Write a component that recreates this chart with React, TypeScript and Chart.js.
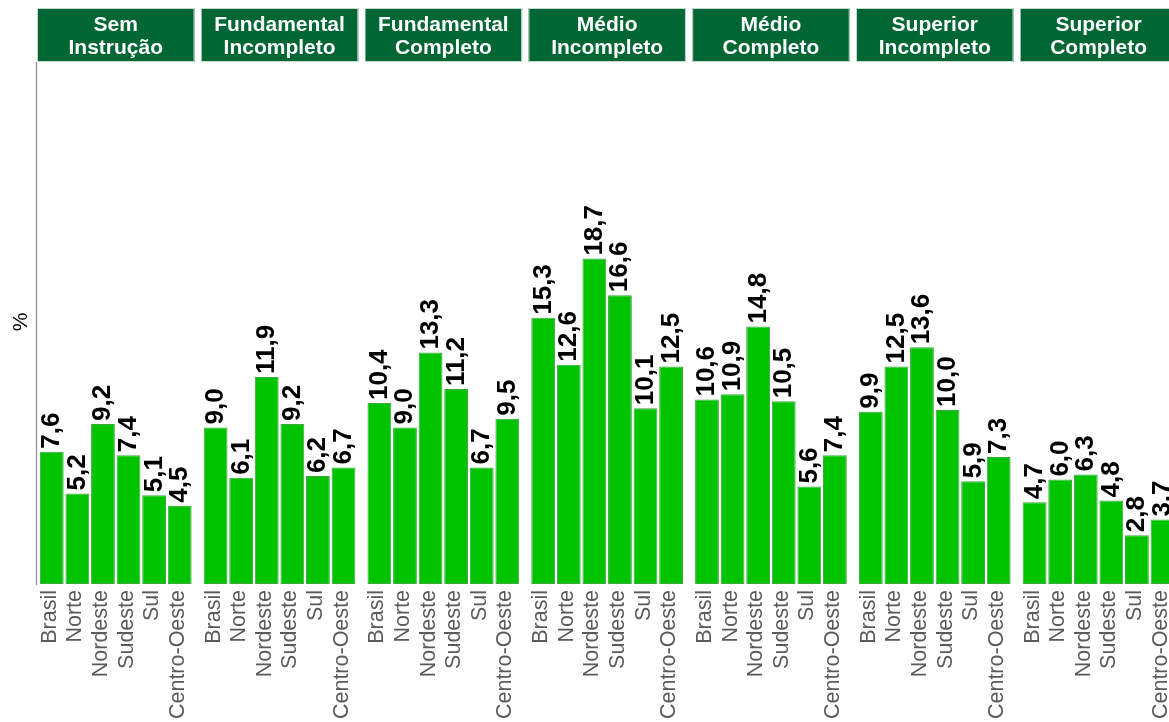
import React, { useEffect, useRef } from "react";
import { Chart, registerables } from "chart.js";

Chart.register(...registerables);

// ---- Data ----
const regions = ["Brasil", "Norte", "Nordeste", "Sudeste", "Sul", "Centro-Oeste"];

const panelTitles = [
  ["Sem", "Instrução"],
  ["Fundamental", "Incompleto"],
  ["Fundamental", "Completo"],
  ["Médio", "Incompleto"],
  ["Médio", "Completo"],
  ["Superior", "Incompleto"],
  ["Superior", "Completo"],
];

const semInstrucao = [7.6, 5.2, 9.2, 7.4, 5.1, 4.5];
const fundamentalIncompleto = [9.0, 6.1, 11.9, 9.2, 6.2, 6.7];
const fundamentalCompleto = [10.4, 9.0, 13.3, 11.2, 6.7, 9.5];
const medioIncompleto = [15.3, 12.6, 18.7, 16.6, 10.1, 12.5];
const medioCompleto = [10.6, 10.9, 14.8, 10.5, 5.6, 7.4];
const superiorIncompleto = [9.9, 12.5, 13.6, 10.0, 5.9, 7.3];
const superiorCompleto = [4.7, 6.0, 6.3, 4.8, 2.8, 3.7];

const panelValues = [
  semInstrucao,
  fundamentalIncompleto,
  fundamentalCompleto,
  medioIncompleto,
  medioCompleto,
  superiorIncompleto,
  superiorCompleto,
];

const yAxisTitle = "%";
const Y_MAX = 30;

// ---- Layout / style ----
const W = 1169;
const H = 722;
const PANEL_X0 = 37;
const PANEL_STEP = 163.8;
const PANEL_W = 157.5;
const PLOT_TOP = 62;
const PLOT_BOTTOM = 584;
const STRIP_TOP = 8;
const FONT = '"Liberation Sans", Arial, Helvetica, sans-serif';

const fmt = (v: number) => v.toFixed(1).replace(".", ",");

function Panel({ index }: { index: number }) {
  const ref = useRef<HTMLCanvasElement | null>(null);
  const panelLeft = PANEL_X0 + index * PANEL_STEP;
  const canvasLeft = index === 0 ? 0 : Math.round(panelLeft);
  const offsetX = panelLeft - canvasLeft;
  const canvasW = Math.ceil(offsetX + PANEL_W);

  useEffect(() => {
    if (!ref.current) return;
    const values = panelValues[index];
    const title = panelTitles[index];

    const facetPlugin = {
      id: "facet" + index,
      beforeDraw(chart: any) {
        const ctx = chart.ctx as CanvasRenderingContext2D;
        ctx.save();
        // strip
        ctx.fillStyle = "#006633";
        ctx.fillRect(offsetX, STRIP_TOP, PANEL_W, PLOT_TOP - STRIP_TOP);
        ctx.strokeStyle = "#c9d9cf";
        ctx.lineWidth = 1;
        ctx.strokeRect(offsetX + 0.5, STRIP_TOP + 0.5, PANEL_W - 1, PLOT_TOP - STRIP_TOP - 1);
        ctx.fillStyle = "#ffffff";
        ctx.font = `bold 21px ${FONT}`;
        ctx.textAlign = "center";
        ctx.textBaseline = "middle";
        const cx = offsetX + PANEL_W / 2;
        ctx.fillText(title[0], cx, 25);
        ctx.fillText(title[1], cx, 48);

        if (index === 0) {
          ctx.strokeStyle = "#8c8c8c";
          ctx.lineWidth = 1.2;
          ctx.beginPath();
          ctx.moveTo(offsetX - 0.5, PLOT_TOP);
          ctx.lineTo(offsetX - 0.5, PLOT_BOTTOM + 1);
          ctx.stroke();
          ctx.save();
          ctx.translate(27, 322);
          ctx.rotate(-Math.PI / 2);
          ctx.fillStyle = "#000000";
          ctx.font = `21px ${FONT}`;
          ctx.textAlign = "center";
          ctx.textBaseline = "alphabetic";
          ctx.fillText(yAxisTitle, 0, 0);
          ctx.restore();
        }
        ctx.restore();
      },
      afterDatasetsDraw(chart: any) {
        const ctx = chart.ctx as CanvasRenderingContext2D;
        const meta = chart.getDatasetMeta(0);
        const xScale = chart.scales.x;
        ctx.save();
        // value labels
        ctx.fillStyle = "#000000";
        ctx.font = `bold 26px ${FONT}`;
        ctx.textAlign = "left";
        ctx.textBaseline = "alphabetic";
        meta.data.forEach((el: any, i: number) => {
          ctx.save();
          ctx.translate(el.x + 7.5, el.y - 3);
          ctx.rotate(-Math.PI / 2);
          ctx.fillText(fmt(values[i]), 0, 0);
          ctx.restore();
        });
        // category labels
        ctx.fillStyle = "#5a5a5a";
        ctx.font = `21.5px ${FONT}`;
        ctx.textAlign = "right";
        regions.forEach((r, i) => {
          const x = xScale.getPixelForValue(i);
          ctx.save();
          ctx.translate(x + 4, PLOT_BOTTOM + 6);
          ctx.rotate(-Math.PI / 2);
          ctx.fillText(r, 0, 0);
          ctx.restore();
        });
        ctx.restore();
      },
    };

    const chart = new Chart(ref.current, {
      type: "bar",
      data: {
        labels: regions,
        datasets: [
          {
            data: values,
            backgroundColor: "#00c300",
            borderColor: "#3ea83e",
            borderWidth: 1,
            borderSkipped: false,
            barPercentage: 0.93,
            categoryPercentage: 1,
          },
        ],
      },
      options: {
        responsive: false,
        animation: false,
        devicePixelRatio: 1,
        layout: {
          padding: {
            top: PLOT_TOP,
            bottom: H - PLOT_BOTTOM,
            left: offsetX + 2,
            right: canvasW - (offsetX + PANEL_W) + 2,
          },
        },
        scales: {
          x: { type: "category", display: false },
          y: { display: false, min: 0, max: Y_MAX },
        },
        plugins: {
          legend: { display: false },
          tooltip: { enabled: false },
        },
      },
      plugins: [facetPlugin],
    } as any);
    return () => chart.destroy();
  }, [index]);

  return (
    <canvas
      ref={ref}
      width={canvasW}
      height={H}
      style={{ position: "absolute", left: canvasLeft, top: 0, width: canvasW, height: H }}
    />
  );
}

export default function App() {
  return (
    <div
      style={{
        position: "absolute",
        left: 0,
        top: 0,
        width: W,
        height: H,
        overflow: "hidden",
        background: "#ffffff",
      }}
    >
      {panelValues.map((_, i) => (
        <Panel key={i} index={i} />
      ))}
    </div>
  );
}
